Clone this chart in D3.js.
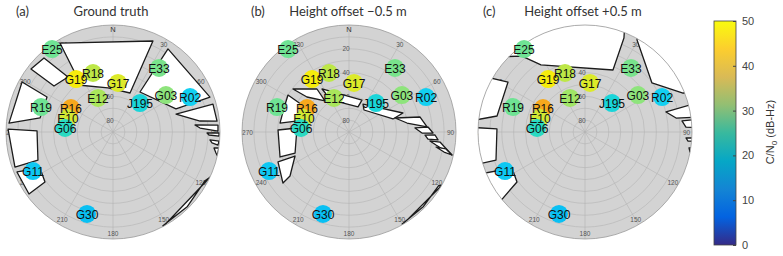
<!DOCTYPE html>
<html>
<head>
<meta charset="utf-8">
<script src="https://cdn.jsdelivr.net/npm/d3@7"></script>
<style>
body { margin: 0; background: #fff; }
text { font-family: "Liberation Sans", Arial, sans-serif; }
.title { font-family: Lato, "Open Sans", sans-serif; }
</style>
</head>
<body>
<svg id="chart" width="783" height="256"></svg>
<script>
// satellites seen in all three skyplots (azimuth / elevation in degrees)
var satNames = ["E25", "G19", "R18", "G17", "E33", "G03", "R02", "E12", "J195", "R19", "R16", "E10", "G06", "G11", "G30"];
var satAz    = [323.7, 325.1, 341.3, 5.8, 35.7, 55.1, 65.6, 336.2, 43.0, 289.1, 299.7, 287.3, 274.8, 244.0, 197.6];
var satEl    = [3.4, 35.7, 37.6, 48.5, 23.7, 35.7, 18.8, 58.7, 56.7, 25.9, 49.3, 50.4, 49.5, 15.1, 17.7];

// C/N0 (dB-Hz) per panel
var cn0Truth = [31, 44, 39, 42, 32, 34, 22, 37, 24, 31, 46.5, 41, 26, 21, 20];
var cn0Minus = [31, 44, 39, 42, 32, 34, 22, 37, 24, 31, 46.5, 41, 26, 21, 20];
var cn0Plus  = [31, 44, 39, 42, 32, 34, 22, 36, 24, 31, 46.5, 41, 26, 21, 20];

var panelTags = ["(a)", "(b)", "(c)"];
var panelTitles = ["Ground truth", "Height offset \u22120.5 m", "Height offset +0.5 m"];
var azTicks = [0, 30, 60, 90, 120, 150, 180, 210, 240, 270, 300, 330];
var elRings = [0, 10, 20, 30, 40, 50, 60, 70, 80];
var elTicks = [20, 40, 60, 80];
var cbTicks = [0, 10, 20, 30, 40, 50];

// open-sky areas (white) as [az, el] outlines
var skyTruth = [
  [[329.2, 2.9], [23.7, 6.4], [23.6, 54.2], [353.5, 52.7], [323.3, 40.7], [327.4, 29.1]],
  [[307.5, 3.0], [317.0, 4.9], [320.7, 30.2], [307.9, 27.1]],
  [[298.8, 2.7], [297.9, 27.2], [280.9, 27.5], [274.9, 2.2]],
  [[271.6, 1.7], [270.8, 26.1], [249.5, 22.6], [250.3, 2.4]],
  [[247.4, 2.5], [243.7, 21.5], [233.7, 19.0], [233.6, 2.2]],
  [[33.5, 6.2], [70.2, 3.3], [69.9, 33.6], [34.0, 49.4]],
  [[74.1, 34.9], [74.4, 2.7], [84.0, 2.0], [82.8, 16.2]],
  [[85.1, 20.8], [86.2, 1.5], [89.5, 1.7], [87.4, 16.7]],
  [[90.6, 10.9], [90.5, 0.8], [92.2, 0.8], [91.8, 9.2]],
  [[94.7, 8.2], [94.9, 0.5], [97.1, 1.0], [96.3, 6.2]],
  [[99.0, 4.0], [98.6, 0.0], [102.8, 0.0], [101.5, 1.6]],
  [[115, 0], [152, 0], [152, 0.6], [135, 1.4], [118, 2.4]]
];
var skyMinus = [
  [[307.5, 30.6], [323.3, 44.9], [322.3, 57.0], [309.8, 44.0]],
  [[327.9, 47.3], [22.1, 61.0], [19.8, 67.6], [330.6, 59.1]],
  [[26.6, 63.7], [70.6, 41.9], [73.5, 51.4], [34.3, 67.6]],
  [[73.1, 49.5], [78.1, 28.9], [86.3, 24.2], [81.2, 40.6]],
  [[86.5, 34.4], [86.4, 23.4], [90.7, 19.3], [90.8, 28.6]],
  [[92.3, 26.0], [92.0, 17.6], [95.1, 14.8], [95.1, 23.3]],
  [[96.3, 21.5], [96.3, 13.0], [102.6, 1.3], [98.5, 16.0]],
  [[99.8, 15.7], [99.9, 7.2], [102.6, 1.3], [101.9, 8.3]],
  [[301.2, 30.0], [299.6, 47.4], [282.2, 46.1], [277.4, 31.5], [290.3, 31.7]],
  [[271.6, 30.3], [274.4, 46.1], [248.7, 41.3], [250.1, 28.3]],
  [[247.1, 25.2], [246.0, 40.3], [233.3, 28.1], [232.3, 19.8]],
  [[120, 0], [150, 0], [150, 0.6], [135, 1.4], [121, 2.2]]
];
var skyPlus = [
  [[299.6, -35.8], [320.3, 7.0], [326.7, 22.5], [24.3, 32.8], [22.5, 4.4], [17.9, -22.3], [314.3, -62.9]],
  [[29.5, 1.1], [53.8, 20.2], [68.3, 1.3], [74.7, -27.8], [45.6, -68.8], [22.6, -30.3]],
  [[76.1, 19.8], [75.4, -9.9], [82.6, -7.6], [81.3, 12.5]],
  [[83.5, 7.9], [83.6, -7.3], [88.0, -6.8], [87.2, 5.0]],
  [[93.4, 4.9], [93.0, -6.8], [94.5, -7.1], [95.0, 3.0]],
  [[98.7, 1.5], [97.9, -7.7], [99.9, -8.2], [100.8, 0.1]],
  [[296.6, -22.9], [303.0, 12.8], [280.3, 14.8], [274.8, -11.3]],
  [[272.4, -11.0], [272.0, 15.9], [252.5, 11.5], [253.7, -15.1]],
  [[248.2, -5.1], [243.7, 21.5], [233.7, 19.0], [230.3, -6.2]]
];

var svg = d3.select("#chart");
var R = 107;
var cy = 132;
var rad = Math.PI / 180;

// elevation -> radius (zenith in the middle)
var rScale = d3.scaleLinear().domain([90, 0]).range([0, R]);

// colorbar map (parula)
var parula = ["#352a87", "#0363e1", "#1485d4", "#06a7c6", "#38b99e", "#92bf73", "#d9ba56", "#fcce2e", "#f9fb0e"];
var cbScale = d3.scaleLinear().domain([0, 50]).range([245, 21]);

// marker fill
var markColor = d3.scaleLinear()
  .domain([18, 22, 25, 30, 34, 38, 42, 44, 47])
  .range(["#00b0f4", "#12d0f2", "#1cd8cc", "#64e29c", "#8ee47c", "#b2e650", "#dcea2a", "#f6ec0c", "#f79a20"])
  .clamp(true);

var panels = [
  {cx: 113, tagX: 16, titleX: 111, cn0: cn0Truth, sky: skyTruth},
  {cx: 349, tagX: 251, titleX: 348, cn0: cn0Minus, sky: skyMinus},
  {cx: 585, tagX: 483, titleX: 583, cn0: cn0Plus, sky: skyPlus}
];

panels.forEach(function(p, i) {
  var g = svg.append("g");
  var px = function(az, el) { return p.cx + rScale(el) * Math.sin(az * rad); };
  var py = function(az, el) { return cy - rScale(el) * Math.cos(az * rad); };

  svg.append("text").attr("class", "title")
    .attr("x", p.tagX).attr("y", 16)
    .attr("font-size", 13).attr("fill", "#333")
    .text(panelTags[i]);
  svg.append("text").attr("class", "title")
    .attr("x", p.titleX).attr("y", 16)
    .attr("text-anchor", "middle")
    .attr("font-size", 13).attr("fill", "#333")
    .text(panelTitles[i]);

  var clipId = "clip" + i;
  svg.append("clipPath").attr("id", clipId)
    .append("circle").attr("cx", p.cx).attr("cy", cy).attr("r", R);

  g.append("circle")
    .attr("cx", p.cx).attr("cy", cy).attr("r", R)
    .attr("fill", "#d3d3d3");

  g.selectAll(".ring").data(elRings.slice(1)).enter()
    .append("circle")
    .attr("cx", p.cx).attr("cy", cy)
    .attr("r", function(d) { return rScale(d); })
    .attr("fill", "none").attr("stroke", "#b4b4b4").attr("stroke-width", 0.6);

  g.selectAll(".spoke").data(azTicks).enter()
    .append("line")
    .attr("x1", p.cx).attr("y1", cy)
    .attr("x2", function(d) { return px(d, 0); })
    .attr("y2", function(d) { return py(d, 0); })
    .attr("stroke", "#b4b4b4").attr("stroke-width", 0.6);

  // azimuth labels just inside the rim
  g.selectAll(".azl").data(azTicks).enter()
    .append("text")
    .attr("x", function(d) { return p.cx + (R - (d == 0 ? 4 : 5.5)) * Math.sin(d * rad); })
    .attr("y", function(d) { return cy - (R - (d == 0 ? 4 : 5.5)) * Math.cos(d * rad); })
    .attr("text-anchor", "middle").attr("dominant-baseline", "central")
    .attr("font-size", function(d) { return d == 0 ? 7.5 : 6.5; })
    .attr("fill", function(d) { return d == 0 ? "#333" : "#555"; })
    .text(function(d) { return d == 0 ? "N" : d; });

  g.selectAll(".ell").data(elTicks).enter()
    .append("text")
    .attr("x", p.cx - 3)
    .attr("y", function(d) { return cy - rScale(d); })
    .attr("text-anchor", "middle").attr("dominant-baseline", "central")
    .attr("font-size", 6.5).attr("fill", "#555")
    .text(function(d) { return d; });

  // open-sky windows
  var line = d3.line()
    .x(function(d) { return px(d[0], d[1]); })
    .y(function(d) { return py(d[0], d[1]); })
    .curve(d3.curveLinearClosed);

  g.append("g").attr("clip-path", "url(#" + clipId + ")")
    .selectAll("path").data(p.sky).enter()
    .append("path")
    .attr("d", line)
    .attr("fill", "#fff")
    .attr("stroke", "#1c1c1c").attr("stroke-width", 1.3)
    .attr("stroke-linejoin", "round");

  g.append("circle")
    .attr("cx", p.cx).attr("cy", cy).attr("r", R)
    .attr("fill", "none").attr("stroke", "#999").attr("stroke-width", 0.8);

  var sats = satNames.map(function(n, k) {
    return {name: n, az: satAz[k], el: satEl[k], v: p.cn0[k]};
  });

  g.selectAll(".sat").data(sats).enter()
    .append("circle")
    .attr("cx", function(d) { return px(d.az, d.el); })
    .attr("cy", function(d) { return py(d.az, d.el); })
    .attr("r", 9)
    .attr("fill", function(d) { return markColor(d.v); });

  g.selectAll(".satl").data(sats).enter()
    .append("text")
    .attr("x", function(d) { return px(d.az, d.el); })
    .attr("y", function(d) { return py(d.az, d.el) + 1; })
    .attr("text-anchor", "middle").attr("dominant-baseline", "central")
    .attr("font-size", 12).attr("fill", "#111")
    .text(function(d) { return d.name; });
});

// colorbar
var defs = svg.append("defs");
var grad = defs.append("linearGradient").attr("id", "cbgrad")
  .attr("x1", 0).attr("y1", 1).attr("x2", 0).attr("y2", 0);
parula.forEach(function(c, k) {
  grad.append("stop").attr("offset", k / (parula.length - 1)).attr("stop-color", c);
});

svg.append("rect")
  .attr("x", 714).attr("y", cbScale(50))
  .attr("width", 22).attr("height", cbScale(0) - cbScale(50))
  .attr("fill", "url(#cbgrad)")
  .attr("stroke", "#444").attr("stroke-width", 0.8);

var cbAxis = svg.append("g")
  .attr("transform", "translate(736,0)")
  .call(d3.axisRight(cbScale).tickValues(cbTicks).tickSize(-3).tickPadding(6));
cbAxis.select(".domain").remove();
cbAxis.selectAll("line").attr("stroke", "#444");
cbAxis.selectAll("text")
  .attr("font-size", 11).attr("fill", "#444")
  .attr("font-family", "'Liberation Sans', Arial, sans-serif");

var cbLabel = svg.append("text")
  .attr("transform", "translate(774,132) rotate(-90)")
  .attr("text-anchor", "middle")
  .attr("font-size", 11).attr("fill", "#333");
cbLabel.append("tspan").text("C/N");
cbLabel.append("tspan").attr("font-size", 8).attr("dy", 3).text("0");
cbLabel.append("tspan").attr("dy", -3).text(" (dB-Hz)");
</script>
</body>
</html>
